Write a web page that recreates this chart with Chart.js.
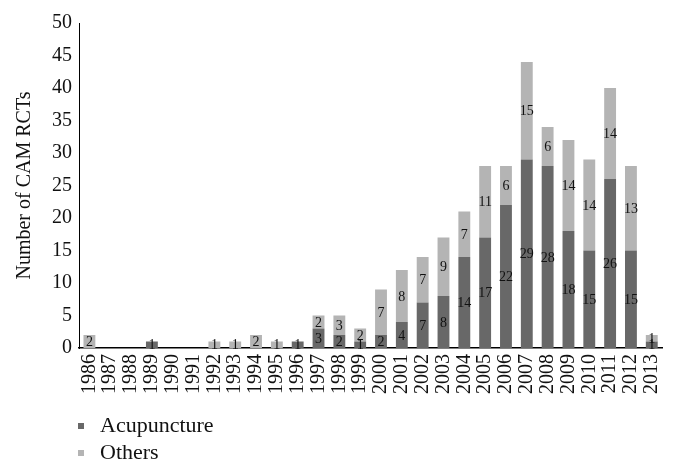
<!DOCTYPE html>
<html>
<head>
<meta charset="utf-8">
<script src="https://cdn.jsdelivr.net/npm/chart.js@4"></script>
<style>
  html, body { margin: 0; padding: 0; background: #fff; }
  #wrap { width: 682px; height: 472px; }
</style>
</head>
<body>
<div id="wrap"><canvas id="camChart"></canvas></div>
<script>
// Data
const years = ["1986", "1987", "1988", "1989", "1990", "1991", "1992", "1993", "1994", "1995",
  "1996", "1997", "1998", "1999", "2000", "2001", "2002", "2003", "2004", "2005",
  "2006", "2007", "2008", "2009", "2010", "2011", "2012", "2013"];
const acupuncture = [0, 0, 0, 1, 0, 0, 0, 0, 0, 0, 1, 3, 2, 1, 2, 4, 7, 8, 14, 17, 22, 29, 28, 18, 15, 26, 15, 1];
const others = [2, 0, 0, 0, 0, 0, 1, 1, 2, 1, 0, 2, 3, 2, 7, 8, 7, 9, 7, 11, 6, 15, 6, 14, 14, 14, 13, 1];
const yMin = 0;
const yMax = 50;
const yStep = 5;

const serif = "'Liberation Serif', 'DejaVu Serif', serif";

// value labels in the middle of each bar segment
const segmentLabels = {
  id: "segmentLabels",
  afterDatasetsDraw(chart) {
    const ctx = chart.ctx;
    ctx.save();
    ctx.font = "14px " + serif;
    ctx.fillStyle = "#111";
    ctx.textAlign = "center";
    ctx.textBaseline = "middle";
    chart.data.datasets.forEach((ds, i) => {
      chart.getDatasetMeta(i).data.forEach((bar, j) => {
        const v = ds.data[j];
        if (!v) return;
        const { x, y, base } = bar.getProps(["x", "y", "base"], true);
        ctx.fillText(v, x, (y + base) / 2 + 1);
      });
    });
    ctx.restore();
  },
};

// vertical legend under the axis labels
const stackedLegend = {
  id: "stackedLegend",
  afterDraw(chart) {
    const ctx = chart.ctx;
    ctx.save();
    ctx.font = "22px " + serif;
    ctx.textBaseline = "middle";
    chart.data.datasets.forEach((ds, i) => {
      const cy = 426 + i * 27;
      ctx.fillStyle = ds.backgroundColor;
      ctx.fillRect(78, cy - 3, 6, 6);
      ctx.fillStyle = "#111";
      ctx.fillText(ds.label, 100, cy);
    });
    ctx.restore();
  },
};

const ctx = document.getElementById("camChart").getContext("2d");
new Chart(ctx, {
  type: "bar",
  data: {
    labels: years,
    datasets: [
      {
        label: "Acupuncture",
        data: acupuncture,
        backgroundColor: "#686868",
        barPercentage: 0.57,
        categoryPercentage: 1,
      },
      {
        label: "Others",
        data: others,
        backgroundColor: "#b4b4b4",
        barPercentage: 0.57,
        categoryPercentage: 1,
      },
    ],
  },
  options: {
    responsive: true,
    maintainAspectRatio: false,
    animation: false,
    layout: { padding: { top: 23, right: 13, left: 0, bottom: 0 } },
    plugins: {
      legend: { display: false },
      tooltip: { enabled: false },
    },
    scales: {
      x: {
        stacked: true,
        grid: { display: false, drawTicks: false },
        border: { color: "#000", width: 1.5 },
        ticks: {
          color: "#111",
          font: { family: serif, size: 20 },
          minRotation: 90,
          maxRotation: 90,
          autoSkip: false,
          padding: 6,
        },
        afterFit(scale) {
          scale.height = 124;
        },
      },
      y: {
        stacked: true,
        min: yMin,
        max: yMax,
        grid: { display: false, drawTicks: false },
        border: { color: "#000", width: 1 },
        ticks: {
          stepSize: yStep,
          color: "#111",
          font: { family: serif, size: 20 },
          padding: 7,
        },
        title: {
          display: true,
          text: "Number of CAM RCTs",
          color: "#111",
          font: { family: serif, size: 20 },
          padding: { top: 13, bottom: 0 },
        },
        afterFit(scale) {
          scale.width = 79;
        },
      },
    },
  },
  plugins: [segmentLabels, stackedLegend],
});
</script>
</body>
</html>
